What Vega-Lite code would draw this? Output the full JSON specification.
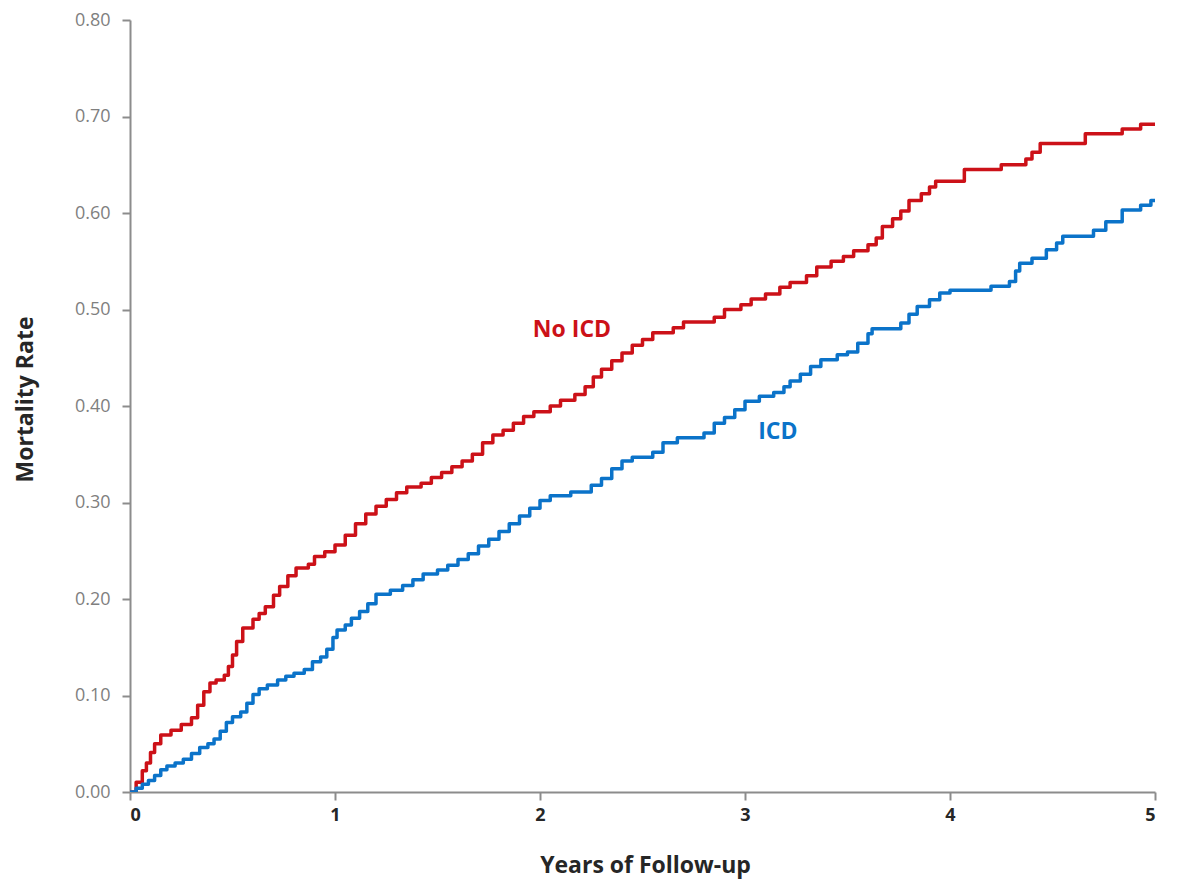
{
  "$schema": "https://vega.github.io/schema/vega-lite/v6.json",
  "width": 1025,
  "height": 772,
  "autosize": {"type": "none"},
  "padding": {"left": 130, "top": 20, "right": 23, "bottom": 94},
  "background": "white",
  "config": {
    "view": {"stroke": null},
    "font": "Open Sans"
  },
  "datasets": {
    "curves": [
      {"group": "No ICD", "t": 0, "v": 0},
      {"group": "No ICD", "t": 0.03, "v": 0.01},
      {"group": "No ICD", "t": 0.06, "v": 0.022},
      {"group": "No ICD", "t": 0.08, "v": 0.03},
      {"group": "No ICD", "t": 0.1, "v": 0.041},
      {"group": "No ICD", "t": 0.12, "v": 0.05},
      {"group": "No ICD", "t": 0.15, "v": 0.059},
      {"group": "No ICD", "t": 0.2, "v": 0.064},
      {"group": "No ICD", "t": 0.25, "v": 0.07},
      {"group": "No ICD", "t": 0.3, "v": 0.077},
      {"group": "No ICD", "t": 0.33, "v": 0.09},
      {"group": "No ICD", "t": 0.36, "v": 0.104},
      {"group": "No ICD", "t": 0.39, "v": 0.113},
      {"group": "No ICD", "t": 0.42, "v": 0.116},
      {"group": "No ICD", "t": 0.46, "v": 0.121},
      {"group": "No ICD", "t": 0.48, "v": 0.13},
      {"group": "No ICD", "t": 0.5, "v": 0.142},
      {"group": "No ICD", "t": 0.52, "v": 0.156},
      {"group": "No ICD", "t": 0.55, "v": 0.17},
      {"group": "No ICD", "t": 0.6, "v": 0.179},
      {"group": "No ICD", "t": 0.63, "v": 0.185},
      {"group": "No ICD", "t": 0.66, "v": 0.192},
      {"group": "No ICD", "t": 0.7, "v": 0.204},
      {"group": "No ICD", "t": 0.73, "v": 0.213},
      {"group": "No ICD", "t": 0.77, "v": 0.224},
      {"group": "No ICD", "t": 0.81, "v": 0.232},
      {"group": "No ICD", "t": 0.87, "v": 0.236},
      {"group": "No ICD", "t": 0.9, "v": 0.244},
      {"group": "No ICD", "t": 0.95, "v": 0.249},
      {"group": "No ICD", "t": 1.0, "v": 0.256},
      {"group": "No ICD", "t": 1.05, "v": 0.266},
      {"group": "No ICD", "t": 1.1, "v": 0.278},
      {"group": "No ICD", "t": 1.15, "v": 0.288},
      {"group": "No ICD", "t": 1.2, "v": 0.296},
      {"group": "No ICD", "t": 1.25, "v": 0.303},
      {"group": "No ICD", "t": 1.3, "v": 0.31},
      {"group": "No ICD", "t": 1.35, "v": 0.316},
      {"group": "No ICD", "t": 1.42, "v": 0.32},
      {"group": "No ICD", "t": 1.47, "v": 0.326},
      {"group": "No ICD", "t": 1.52, "v": 0.331},
      {"group": "No ICD", "t": 1.57, "v": 0.337},
      {"group": "No ICD", "t": 1.62, "v": 0.343},
      {"group": "No ICD", "t": 1.67, "v": 0.35},
      {"group": "No ICD", "t": 1.72, "v": 0.362},
      {"group": "No ICD", "t": 1.77, "v": 0.37},
      {"group": "No ICD", "t": 1.82, "v": 0.375},
      {"group": "No ICD", "t": 1.87, "v": 0.382},
      {"group": "No ICD", "t": 1.92, "v": 0.389},
      {"group": "No ICD", "t": 1.97, "v": 0.394},
      {"group": "No ICD", "t": 2.05, "v": 0.4},
      {"group": "No ICD", "t": 2.1, "v": 0.406},
      {"group": "No ICD", "t": 2.17, "v": 0.412},
      {"group": "No ICD", "t": 2.22, "v": 0.42},
      {"group": "No ICD", "t": 2.26, "v": 0.43},
      {"group": "No ICD", "t": 2.3, "v": 0.438},
      {"group": "No ICD", "t": 2.35, "v": 0.447},
      {"group": "No ICD", "t": 2.4, "v": 0.455},
      {"group": "No ICD", "t": 2.45, "v": 0.463},
      {"group": "No ICD", "t": 2.5, "v": 0.469},
      {"group": "No ICD", "t": 2.55, "v": 0.476},
      {"group": "No ICD", "t": 2.65, "v": 0.481},
      {"group": "No ICD", "t": 2.7, "v": 0.487},
      {"group": "No ICD", "t": 2.85, "v": 0.492},
      {"group": "No ICD", "t": 2.9, "v": 0.5},
      {"group": "No ICD", "t": 2.98, "v": 0.505},
      {"group": "No ICD", "t": 3.03, "v": 0.511},
      {"group": "No ICD", "t": 3.1, "v": 0.516},
      {"group": "No ICD", "t": 3.17, "v": 0.523},
      {"group": "No ICD", "t": 3.22, "v": 0.528},
      {"group": "No ICD", "t": 3.3, "v": 0.535},
      {"group": "No ICD", "t": 3.35, "v": 0.544},
      {"group": "No ICD", "t": 3.42, "v": 0.55},
      {"group": "No ICD", "t": 3.48, "v": 0.555},
      {"group": "No ICD", "t": 3.53, "v": 0.561},
      {"group": "No ICD", "t": 3.6, "v": 0.567},
      {"group": "No ICD", "t": 3.64, "v": 0.574},
      {"group": "No ICD", "t": 3.67, "v": 0.586},
      {"group": "No ICD", "t": 3.72, "v": 0.594},
      {"group": "No ICD", "t": 3.76, "v": 0.602},
      {"group": "No ICD", "t": 3.8, "v": 0.613},
      {"group": "No ICD", "t": 3.86, "v": 0.62},
      {"group": "No ICD", "t": 3.9, "v": 0.627},
      {"group": "No ICD", "t": 3.93, "v": 0.633},
      {"group": "No ICD", "t": 4.07, "v": 0.645},
      {"group": "No ICD", "t": 4.25, "v": 0.65},
      {"group": "No ICD", "t": 4.37, "v": 0.656},
      {"group": "No ICD", "t": 4.4, "v": 0.663},
      {"group": "No ICD", "t": 4.44, "v": 0.672},
      {"group": "No ICD", "t": 4.66, "v": 0.682},
      {"group": "No ICD", "t": 4.84, "v": 0.687},
      {"group": "No ICD", "t": 4.93, "v": 0.692},
      {"group": "No ICD", "t": 5.0, "v": 0.692},
      {"group": "ICD", "t": 0, "v": 0},
      {"group": "ICD", "t": 0.03, "v": 0.004},
      {"group": "ICD", "t": 0.06, "v": 0.008},
      {"group": "ICD", "t": 0.09, "v": 0.012},
      {"group": "ICD", "t": 0.12, "v": 0.017},
      {"group": "ICD", "t": 0.15, "v": 0.023},
      {"group": "ICD", "t": 0.18, "v": 0.027},
      {"group": "ICD", "t": 0.22, "v": 0.03},
      {"group": "ICD", "t": 0.26, "v": 0.034},
      {"group": "ICD", "t": 0.3, "v": 0.04},
      {"group": "ICD", "t": 0.34, "v": 0.046},
      {"group": "ICD", "t": 0.38, "v": 0.05},
      {"group": "ICD", "t": 0.41, "v": 0.055},
      {"group": "ICD", "t": 0.44, "v": 0.063},
      {"group": "ICD", "t": 0.47, "v": 0.072},
      {"group": "ICD", "t": 0.5, "v": 0.078},
      {"group": "ICD", "t": 0.54, "v": 0.083},
      {"group": "ICD", "t": 0.57, "v": 0.092},
      {"group": "ICD", "t": 0.6, "v": 0.101},
      {"group": "ICD", "t": 0.63, "v": 0.107},
      {"group": "ICD", "t": 0.67, "v": 0.111},
      {"group": "ICD", "t": 0.72, "v": 0.116},
      {"group": "ICD", "t": 0.76, "v": 0.12},
      {"group": "ICD", "t": 0.8, "v": 0.123},
      {"group": "ICD", "t": 0.85, "v": 0.127},
      {"group": "ICD", "t": 0.89, "v": 0.135},
      {"group": "ICD", "t": 0.93, "v": 0.14},
      {"group": "ICD", "t": 0.96, "v": 0.148},
      {"group": "ICD", "t": 0.99, "v": 0.16},
      {"group": "ICD", "t": 1.01, "v": 0.168},
      {"group": "ICD", "t": 1.05, "v": 0.173},
      {"group": "ICD", "t": 1.08, "v": 0.18},
      {"group": "ICD", "t": 1.12, "v": 0.187},
      {"group": "ICD", "t": 1.16, "v": 0.195},
      {"group": "ICD", "t": 1.2, "v": 0.205},
      {"group": "ICD", "t": 1.27, "v": 0.209},
      {"group": "ICD", "t": 1.33, "v": 0.214},
      {"group": "ICD", "t": 1.38, "v": 0.22},
      {"group": "ICD", "t": 1.43, "v": 0.226},
      {"group": "ICD", "t": 1.5, "v": 0.23},
      {"group": "ICD", "t": 1.55, "v": 0.235},
      {"group": "ICD", "t": 1.6, "v": 0.241},
      {"group": "ICD", "t": 1.65, "v": 0.247},
      {"group": "ICD", "t": 1.7, "v": 0.255},
      {"group": "ICD", "t": 1.75, "v": 0.262},
      {"group": "ICD", "t": 1.8, "v": 0.27},
      {"group": "ICD", "t": 1.85, "v": 0.278},
      {"group": "ICD", "t": 1.9, "v": 0.286},
      {"group": "ICD", "t": 1.95, "v": 0.294},
      {"group": "ICD", "t": 2.0, "v": 0.302},
      {"group": "ICD", "t": 2.05, "v": 0.307},
      {"group": "ICD", "t": 2.15, "v": 0.311},
      {"group": "ICD", "t": 2.25, "v": 0.318},
      {"group": "ICD", "t": 2.3, "v": 0.325},
      {"group": "ICD", "t": 2.35, "v": 0.335},
      {"group": "ICD", "t": 2.4, "v": 0.343},
      {"group": "ICD", "t": 2.45, "v": 0.347},
      {"group": "ICD", "t": 2.55, "v": 0.352},
      {"group": "ICD", "t": 2.6, "v": 0.362},
      {"group": "ICD", "t": 2.67, "v": 0.367},
      {"group": "ICD", "t": 2.8, "v": 0.372},
      {"group": "ICD", "t": 2.85, "v": 0.382},
      {"group": "ICD", "t": 2.9, "v": 0.388},
      {"group": "ICD", "t": 2.95, "v": 0.396},
      {"group": "ICD", "t": 3.0, "v": 0.405},
      {"group": "ICD", "t": 3.07, "v": 0.41},
      {"group": "ICD", "t": 3.14, "v": 0.414},
      {"group": "ICD", "t": 3.19, "v": 0.42},
      {"group": "ICD", "t": 3.22, "v": 0.426},
      {"group": "ICD", "t": 3.27, "v": 0.433},
      {"group": "ICD", "t": 3.32, "v": 0.441},
      {"group": "ICD", "t": 3.37, "v": 0.448},
      {"group": "ICD", "t": 3.45, "v": 0.453},
      {"group": "ICD", "t": 3.5, "v": 0.456},
      {"group": "ICD", "t": 3.55, "v": 0.465},
      {"group": "ICD", "t": 3.6, "v": 0.475},
      {"group": "ICD", "t": 3.62, "v": 0.48},
      {"group": "ICD", "t": 3.76, "v": 0.486},
      {"group": "ICD", "t": 3.8, "v": 0.495},
      {"group": "ICD", "t": 3.84, "v": 0.503},
      {"group": "ICD", "t": 3.9, "v": 0.51},
      {"group": "ICD", "t": 3.95, "v": 0.517},
      {"group": "ICD", "t": 4.0, "v": 0.52},
      {"group": "ICD", "t": 4.2, "v": 0.524},
      {"group": "ICD", "t": 4.29, "v": 0.529},
      {"group": "ICD", "t": 4.32, "v": 0.54},
      {"group": "ICD", "t": 4.34, "v": 0.548},
      {"group": "ICD", "t": 4.4, "v": 0.553},
      {"group": "ICD", "t": 4.47, "v": 0.562},
      {"group": "ICD", "t": 4.52, "v": 0.569},
      {"group": "ICD", "t": 4.55, "v": 0.576},
      {"group": "ICD", "t": 4.7, "v": 0.582},
      {"group": "ICD", "t": 4.76, "v": 0.591},
      {"group": "ICD", "t": 4.84, "v": 0.603},
      {"group": "ICD", "t": 4.93, "v": 0.608},
      {"group": "ICD", "t": 4.98, "v": 0.613},
      {"group": "ICD", "t": 5.0, "v": 0.613}
    ],
    "labels": [
      {"group": "No ICD", "t": 2.156, "v": 0.479},
      {"group": "ICD", "t": 3.16, "v": 0.373}
    ]
  },
  "layer": [
    {
      "data": {"name": "curves"},
      "mark": {"type": "line", "interpolate": "step-after", "strokeWidth": 3.5, "strokeJoin": "round", "clip": true},
      "encoding": {
        "x": {
          "field": "t", "type": "quantitative",
          "scale": {"domain": [0, 5], "nice": false, "zero": true},
          "axis": {
            "title": "Years of Follow-up",
            "values": [0, 1, 2, 3, 4, 5],
            "format": "d",
            "grid": false,
            "domainColor": "#8c8c8c", "domainWidth": 2,
            "tickColor": "#8c8c8c", "tickWidth": 2, "tickSize": 8,
            "labelFont": "Open Sans", "labelFontSize": 18, "labelFontWeight": "bold", "labelColor": "#262626",
            "labelPadding": 6,
            "titleFont": "Open Sans", "titleFontSize": 23, "titleFontWeight": "bold", "titleColor": "#262626",
            "titleX": 515, "titleY": 73, "titleBaseline": "middle", "titleAlign": "center"
          }
        },
        "y": {
          "field": "v", "type": "quantitative",
          "scale": {"domain": [0, 0.8], "nice": false},
          "axis": {
            "title": "Mortality Rate",
            "values": [0, 0.1, 0.2, 0.3, 0.4, 0.5, 0.6, 0.7, 0.8],
            "format": ".2f",
            "grid": false,
            "domainColor": "#8c8c8c", "domainWidth": 2,
            "tickColor": "#8c8c8c", "tickWidth": 2, "tickSize": 8,
            "labelFont": "Open Sans", "labelFontSize": 18, "labelColor": "#7f7f7f",
            "labelPadding": 12,
            "titleFont": "Open Sans", "titleFontSize": 23, "titleFontWeight": "bold", "titleColor": "#262626",
            "titleX": -105, "titleY": 379, "titleAngle": -90, "titleBaseline": "middle", "titleAlign": "center"
          }
        },
        "color": {
          "field": "group", "type": "nominal",
          "scale": {"domain": ["No ICD", "ICD"], "range": ["#cc1118", "#0b73c9"]},
          "legend": null
        }
      }
    },
    {
      "data": {"name": "labels"},
      "mark": {"type": "text", "font": "Open Sans", "fontSize": 23, "fontWeight": "bold", "align": "center", "baseline": "middle"},
      "encoding": {
        "x": {"field": "t", "type": "quantitative"},
        "y": {"field": "v", "type": "quantitative"},
        "text": {"field": "group"},
        "color": {
          "field": "group", "type": "nominal",
          "scale": {"domain": ["No ICD", "ICD"], "range": ["#cc1118", "#0b73c9"]},
          "legend": null
        }
      }
    }
  ]
}
